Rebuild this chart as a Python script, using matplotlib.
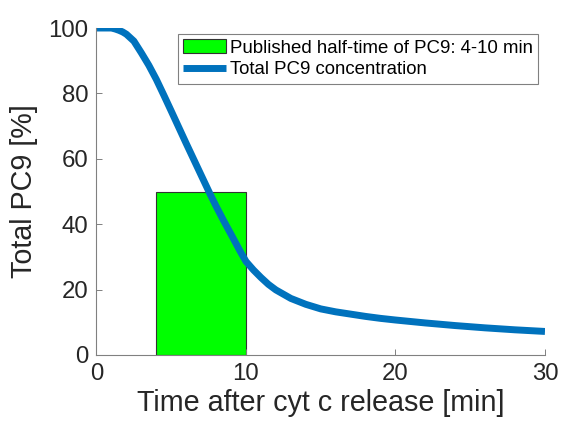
import matplotlib
matplotlib.use('Agg')
import matplotlib.pyplot as plt
from matplotlib.patches import Rectangle

# PC9 time course after cytochrome c release
time_min = [0, 1, 1.25, 1.5, 1.75, 2, 2.5, 3, 3.5, 4, 4.5, 5, 6, 7, 7.6, 8, 8.5,
            9, 9.6, 10, 10.5, 11, 11.5, 12, 13, 14, 15, 16, 17, 18, 19, 20,
            22, 24, 26, 28, 30]
pc9_total = [100, 100, 99.7, 99.3, 98.8, 98.1, 96, 92.4, 88.6, 84.3, 79.5, 74.6,
             64.7, 55, 49.2, 45.5, 41.1, 36.9, 31.8, 28.6, 26, 23.7, 21.6, 19.9,
             17.3, 15.5, 14.1, 13.2, 12.5, 11.8, 11.2, 10.7, 9.8, 9, 8.3, 7.7, 7.2]

# published half-time window
half_time_lo = 4
half_time_hi = 10
half_time_height = 50

plt.rcParams['font.family'] = ['Liberation Sans', 'DejaVu Sans']

fig = plt.figure(figsize=(5.63, 4.29), dpi=100)
ax = fig.add_axes([0.1714, 0.1725, 0.7966, 0.7622])

gray = '#262626'
ax.add_patch(Rectangle((half_time_lo, 0), half_time_hi - half_time_lo, half_time_height,
                       facecolor='#00ff00', edgecolor='#333333', linewidth=0.8,
                       label='Published half-time of PC9: 4-10 min'))
ax.plot(time_min, pc9_total, color=(0, 0.447, 0.741), linewidth=5,
        solid_capstyle='butt', solid_joinstyle='round',
        label='Total PC9 concentration')

ax.set_xlim(0, 30)
ax.set_ylim(0, 100)
ax.set_xticks([0, 10, 20, 30])
ax.set_yticks([0, 20, 40, 60, 80, 100])
ax.tick_params(direction='in', length=4, width=0.7, color='#808080',
               labelcolor=gray, labelsize=17.3, pad=6)
for s in ['top', 'right']:
    ax.spines[s].set_visible(False)
for s in ['left', 'bottom']:
    ax.spines[s].set_color('#808080')
    ax.spines[s].set_linewidth(0.8)

ax.set_xlabel('Time after cyt c release [min]', fontsize=20.7, color=gray, labelpad=3)
ax.set_ylabel('Total PC9 [%]', fontsize=20.7, color=gray, labelpad=7)

leg = ax.legend(loc='upper right', bbox_to_anchor=(0.985, 0.982), fontsize=13.4,
                frameon=True, fancybox=False, framealpha=1, borderpad=0.3,
                handlelength=2.3, handletextpad=0.2, labelspacing=0.25,
                borderaxespad=0)
leg.get_frame().set_edgecolor('#808080')
leg.get_frame().set_linewidth(0.8)
for t in leg.get_texts():
    t.set_color('black')

fig.savefig('out.png', dpi=100)
